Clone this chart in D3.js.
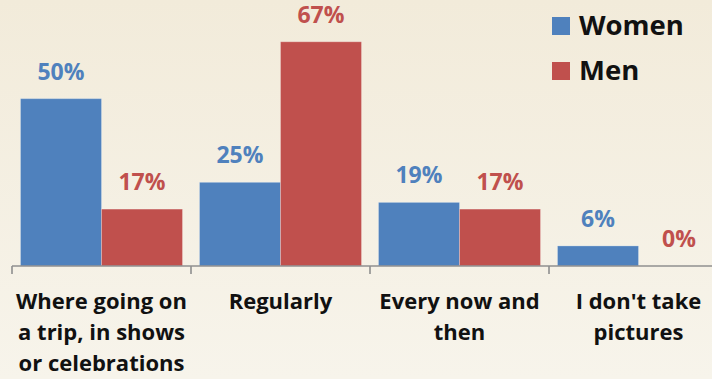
<!DOCTYPE html>
<html>
<head>
<meta charset="utf-8">
<script src="https://cdn.jsdelivr.net/npm/d3@7/dist/d3.min.js"></script>
<style>
  html, body { margin: 0; padding: 0; }
  svg { display: block; font-family: "Open Sans", Lato, sans-serif; font-weight: bold; }
</style>
</head>
<body>
<svg id="chart" width="712" height="379"></svg>
<script>
// Survey: when people take pictures, by gender (%)
const categories = [
  ["Where going on", "a trip, in shows", "or celebrations"],
  ["Regularly"],
  ["Every now and", "then"],
  ["I don't take", "pictures"]
];
const seriesNames = ["Women", "Men"];
const women = [50, 25, 19, 6];
const men = [17, 67, 17, 0];
const seriesColors = ["#4f81bd", "#c0504d"];

const svg = d3.select("#chart");
const W = 712, H = 379;

// background wash
const defs = svg.append("defs");
const grad = defs.append("linearGradient").attr("id", "bg").attr("x1", 0).attr("y1", 0).attr("x2", 0).attr("y2", 1);
grad.append("stop").attr("offset", "0%").attr("stop-color", "#f2ebda");
grad.append("stop").attr("offset", "100%").attr("stop-color", "#f7f4eb");
svg.append("rect").attr("width", W).attr("height", H).attr("fill", "url(#bg)");

const keys = categories.map((c, i) => i);
const baseY = 266;

const x0 = d3.scaleBand().domain(keys).range([12, 728]).paddingInner(0.095).paddingOuter(0.0475);
const x1 = d3.scaleBand().domain(seriesNames).range([0, x0.bandwidth()]);
const y = d3.scaleLinear().domain([0, 80]).range([baseY, baseY - 80 * 3.347]);

const rows = keys.map(i => ({ i, values: [women[i], men[i]] }));

// bars
const groups = svg.append("g").selectAll("g").data(rows).join("g")
  .attr("transform", d => `translate(${x0(d.i)},0)`);

groups.selectAll("rect").data(d => d.values.map((v, s) => ({ v, s })))
  .join("rect")
  .attr("x", d => x1(seriesNames[d.s]))
  .attr("y", d => y(d.v))
  .attr("width", x1.bandwidth())
  .attr("height", d => y(0) - y(d.v))
  .attr("fill", d => seriesColors[d.s])
  .attr("stroke", "rgba(255,255,255,0.25)")
  .attr("stroke-width", 1);

// value labels
groups.selectAll("text.val").data(d => d.values.map((v, s) => ({ v, s })))
  .join("text")
  .attr("class", "val")
  .attr("x", d => x1(seriesNames[d.s]) + x1.bandwidth() / 2)
  .attr("y", d => y(d.v) - 19)
  .attr("text-anchor", "middle")
  .attr("font-size", 23)
  .attr("fill", d => seriesColors[d.s])
  .text(d => d.v + "%");

// category axis with boundary ticks
const band = x0.step();
const axisG = svg.append("g").attr("stroke", "#8f8f8f").attr("stroke-width", 1.6).attr("fill", "none");
axisG.append("line").attr("x1", 12).attr("x2", W).attr("y1", baseY).attr("y2", baseY);
d3.range(keys.length + 1).forEach(k => {
  const tx = 12 + k * band;
  axisG.append("line").attr("x1", tx).attr("x2", tx).attr("y1", baseY).attr("y2", baseY + 8);
});

// category labels
const catG = svg.append("g");
rows.forEach(d => {
  const cx = x0(d.i) + x0.bandwidth() / 2;
  const t = catG.append("text").attr("text-anchor", "middle").attr("font-size", 22).attr("fill", "#111");
  categories[d.i].forEach((line, li) => {
    t.append("tspan").attr("x", cx).attr("y", 309 + li * 31).text(line);
  });
});

// legend
const leg = svg.append("g");
seriesNames.forEach((name, s) => {
  const ly = 17 + s * 45;
  leg.append("rect").attr("x", 552).attr("y", ly).attr("width", 18).attr("height", 18).attr("fill", seriesColors[s]);
  leg.append("text").attr("x", 579).attr("y", ly + 18).attr("font-size", 27.5).attr("fill", "#111").text(name);
});
</script>
</body>
</html>
